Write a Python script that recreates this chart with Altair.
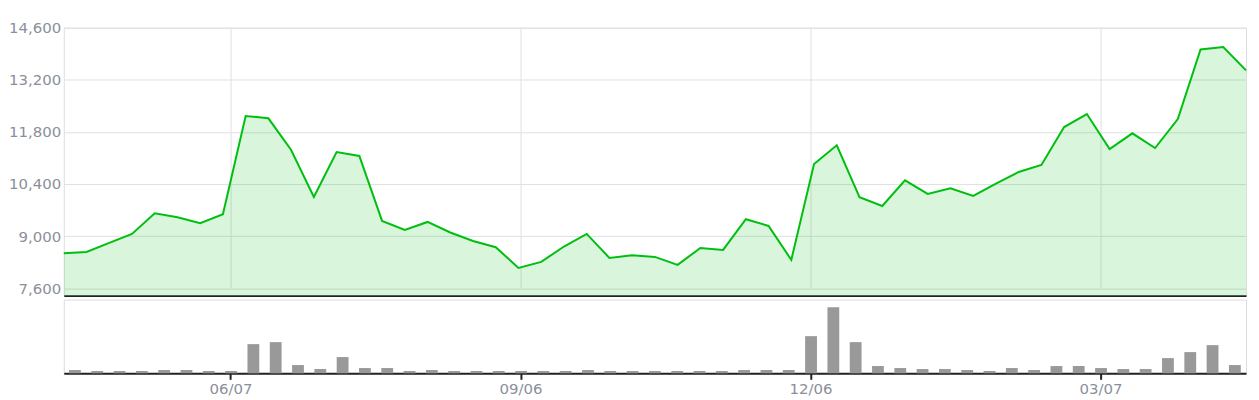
import altair as alt
import pandas as pd

# weekly categories (Sundays)
dates = pd.date_range("2020-04-19", periods=53, freq="7D")
labels = [d.strftime("%m/%d") for d in dates]

close = [8540, 8575, 8817, 9058, 9614, 9507, 9345, 9587, 12227, 12165,
         11314, 10052, 11260, 11153, 9407, 9166, 9380, 9096, 8870, 8701,
         8145, 8307, 8720, 9058, 8414, 8486, 8441, 8226, 8682, 8629,
         9453, 9273, 8360, 10938, 11440, 10044, 9810, 10500, 10132, 10285,
         10079, 10411, 10723, 10911, 11931, 12280, 11340, 11762, 11367, 12146,
         14017, 14079, 13454]

volume = [33, 23, 23, 23, 33, 33, 23, 23, 293, 313,
          83, 43, 163, 53, 53, 23, 33, 23, 23, 23,
          23, 23, 23, 33, 23, 23, 23, 23, 23, 23,
          33, 33, 33, 373, 663, 313, 73, 53, 43, 43,
          33, 23, 53, 33, 73, 73, 53, 43, 43, 153,
          213, 283, 83]

tick_labels = ["06/07", "09/06", "12/06", "03/07"]
y_ticks = [7600, 9000, 10400, 11800, 13200, 14600]

df = pd.DataFrame({"label": labels, "close": close, "volume": volume})
grid_df = pd.DataFrame({"label": tick_labels, "lo": [y_ticks[0]] * 4, "hi": [y_ticks[-1]] * 4})

W = 1187
LINE = "#00bf10"
GRID = "#dfe0e4"
LABEL = "#8a909b"
AXIS = "#222222"

band_scale = alt.Scale(type="band", domain=labels, paddingInner=0.47, paddingOuter=0.235)
point_scale = alt.Scale(type="point", domain=labels, padding=0)
y_scale = alt.Scale(domain=[7400, 14600], nice=False, zero=False)

y_axis = alt.Axis(values=y_ticks, format=",d", title=None, domain=False, ticks=False,
                  labelColor=LABEL, labelFontSize=15, labelPadding=3,
                  gridColor=GRID, gridWidth=1)

vgrid = alt.Chart(grid_df).mark_rule(color=GRID, strokeWidth=1).encode(
    x=alt.X("label:O", scale=band_scale, axis=None),
    y=alt.Y("lo:Q", scale=y_scale, axis=y_axis),
    y2="hi:Q",
)

area = alt.Chart(df).mark_area(color=LINE, fillOpacity=0.15, clip=True).encode(
    x=alt.X("label:O", scale=point_scale,
            axis=alt.Axis(labels=False, ticks=False, grid=False, title=None,
                          domainColor=AXIS, domainWidth=2)),
    y=alt.Y("close:Q", scale=y_scale, axis=y_axis),
)
line = alt.Chart(df).mark_line(color=LINE, strokeWidth=2).encode(
    x=alt.X("label:O", scale=point_scale, axis=None),
    y=alt.Y("close:Q", scale=y_scale, axis=y_axis),
)

top = alt.layer(vgrid, area, line).resolve_scale(x="independent").properties(width=W, height=269)

bars = alt.Chart(df).mark_bar(color="#999999").encode(
    x=alt.X("label:O", scale=band_scale,
            axis=alt.Axis(values=tick_labels, labelAngle=0, title=None, grid=False,
                          domainColor=AXIS, domainWidth=2, tickColor=AXIS, tickWidth=2,
                          tickSize=6, labelColor=LABEL, labelFontSize=15, labelPadding=2)),
    y=alt.Y("volume:Q", scale=alt.Scale(domain=[0, 740]), axis=None),
).properties(width=W, height=74)

chart = alt.vconcat(top, bars, spacing=1).properties(
    padding={"left": 0, "top": 11, "right": 0, "bottom": 0}
).configure_view(stroke=None).configure(font="DejaVu Sans")

chart.save("out.html", embed_options={"renderer": "svg", "actions": False})
